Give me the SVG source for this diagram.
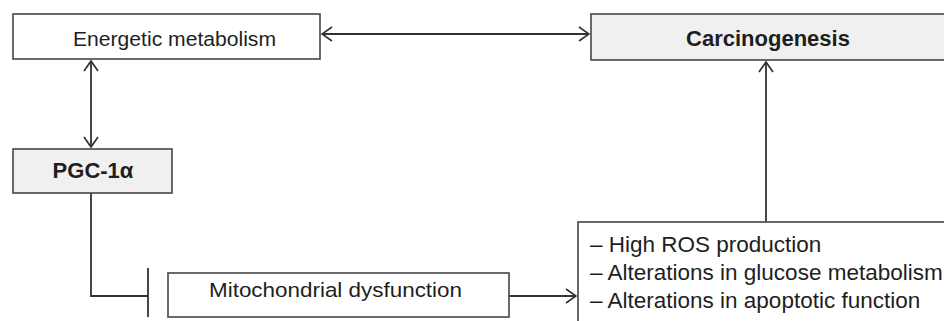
<svg xmlns="http://www.w3.org/2000/svg" width="944" height="321" viewBox="0 0 944 321">
<defs>
<style>
.box{stroke:#505050;stroke-width:1.7;fill:#ffffff}
.grey{fill:#f0f0f0}
.t{font-family:"Liberation Sans",Arial,sans-serif;fill:#1e1e1e}
.b{font-weight:bold}
.c{stroke:#333333;stroke-width:1.8;fill:none}
</style>
<marker id="ah" viewBox="0 0 12 16" refX="11" refY="8" markerWidth="12" markerHeight="16" markerUnits="userSpaceOnUse" orient="auto-start-reverse">
<path d="M1,1 L11,8 L1,15" fill="none" stroke="#333333" stroke-width="1.7"/>
</marker>
</defs>
<rect width="944" height="321" fill="#ffffff"/>
<g id="connectors">
<line class="c" x1="322" y1="34" x2="589" y2="34" marker-start="url(#ah)" marker-end="url(#ah)"/>
<line class="c" x1="91" y1="61" x2="91" y2="147" marker-start="url(#ah)" marker-end="url(#ah)"/>
<line class="c" x1="766" y1="222" x2="766" y2="62" marker-end="url(#ah)"/>
<path class="c" d="M91,193 V296 H148"/>
<line class="c" x1="148" y1="268" x2="148" y2="317"/>
<line class="c" x1="509" y1="296" x2="576" y2="296" marker-end="url(#ah)"/>
</g>
<g id="energetic">
<rect class="box" x="13" y="14" width="307" height="45"/>
<text class="t" x="174.5" y="46" font-size="20.5" text-anchor="middle" textLength="203" lengthAdjust="spacingAndGlyphs">Energetic metabolism</text>
</g>
<g id="carcinogenesis">
<rect class="box grey" x="591" y="14" width="360" height="46"/>
<text class="t b" x="768" y="46" font-size="22" text-anchor="middle">Carcinogenesis</text>
</g>
<g id="pgc">
<rect class="box grey" x="13" y="149" width="159" height="44"/>
<text class="t b" x="93" y="178" font-size="22" text-anchor="middle">PGC-1α</text>
</g>
<g id="mito">
<rect class="box" x="168" y="273" width="341" height="44"/>
<text class="t" x="335.5" y="297" font-size="20.5" text-anchor="middle" textLength="253" lengthAdjust="spacingAndGlyphs">Mitochondrial dysfunction</text>
</g>
<g id="effects">
<rect class="box" x="578" y="222" width="380" height="120"/>
<text class="t" x="590" y="252" font-size="22.5">– High ROS production</text>
<text class="t" x="590" y="280" font-size="22.5">– Alterations in glucose metabolism</text>
<text class="t" x="590" y="308" font-size="22.5">– Alterations in apoptotic function</text>
</g>
</svg>
